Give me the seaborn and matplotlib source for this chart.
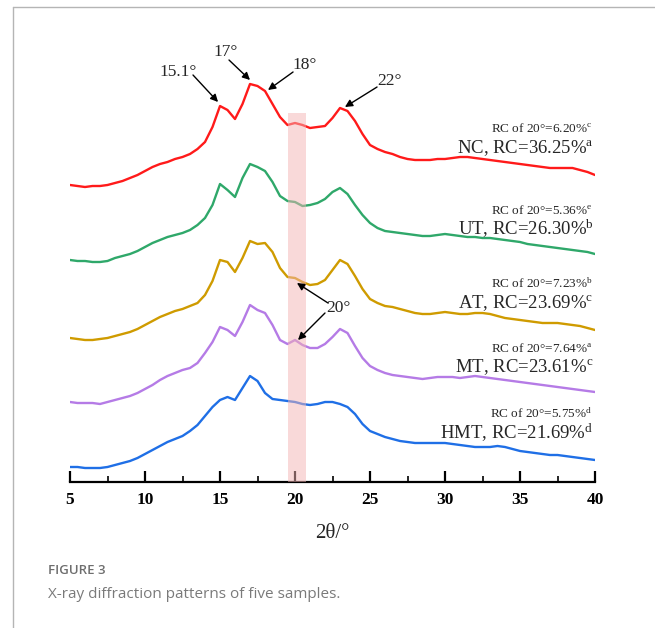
# XRD patterns of five starch samples, stacked, with RC annotations

import numpy as np
import pandas as pd
import seaborn as sns
import matplotlib.pyplot as plt
from matplotlib.lines import Line2D
from matplotlib.ticker import MultipleLocator

# ----------------------------- DATA --------------------------------------------------------------------

two_theta = np.arange(5, 40.01, 0.5)

samples = ["NC", "UT", "AT", "MT", "HMT"]
colors = ["#ff1a1a", "#2fa86a", "#cf9b00", "#b57be6", "#1f6fe6"]

# intensity (a.u.), every 0.5 deg from 5 to 40
nc = [5, 4, 3, 4, 4, 5, 7, 9, 12, 15,
      19, 23, 26, 28, 31, 33, 36, 41, 48, 63,
      84, 80, 71, 86, 106, 104, 99, 86, 73, 65,
      67, 65, 62, 63, 64, 72, 82, 79, 69, 56,
      45, 41, 38, 36, 33, 31, 30, 30, 30, 31,
      31, 32, 33, 33, 32, 31, 30, 29, 28, 27,
      26, 25, 24, 23, 22, 22, 22, 22, 20, 18,
      15]
ut = [5, 4, 4, 3, 3, 4, 7, 9, 11, 14,
      18, 22, 25, 28, 30, 32, 35, 40, 47, 60,
      81, 75, 68, 87, 101, 98, 94, 83, 69, 64,
      63, 59, 60, 62, 66, 73, 77, 71, 60, 50,
      42, 37, 34, 33, 32, 31, 30, 29, 29, 30,
      31, 30, 29, 28, 28, 27, 27, 26, 25, 24,
      23, 21, 20, 19, 18, 17, 16, 15, 14, 13,
      11]
at = [7, 6, 5, 5, 6, 7, 9, 11, 13, 16,
      20, 24, 28, 31, 34, 36, 39, 42, 50, 64,
      85, 83, 73, 87, 104, 101, 102, 93, 77, 68,
      67, 63, 60, 61, 65, 75, 85, 81, 69, 56,
      46, 42, 39, 38, 36, 34, 32, 31, 31, 32,
      33, 32, 31, 31, 32, 32, 31, 29, 27, 26,
      25, 24, 23, 22, 22, 22, 21, 20, 19, 17,
      15]
mt = [8, 7, 7, 7, 6, 8, 10, 12, 14, 17,
      21, 25, 30, 34, 37, 40, 42, 47, 57, 68,
      83, 80, 74, 88, 105, 100, 97, 85, 70, 66,
      70, 65, 62, 62, 66, 73, 81, 77, 64, 52,
      44, 40, 37, 35, 34, 33, 32, 31, 32, 33,
      33, 33, 32, 33, 34, 33, 32, 31, 30, 29,
      28, 27, 26, 25, 24, 23, 22, 21, 20, 19,
      18]
hmt = [3, 3, 2, 2, 2, 3, 5, 7, 9, 12,
       16, 20, 24, 28, 31, 34, 39, 45, 54, 63,
       70, 73, 70, 82, 94, 89, 77, 71, 70, 69,
       68, 66, 65, 66, 68, 68, 66, 63, 56, 46,
       39, 36, 33, 31, 29, 28, 27, 27, 27, 27,
       27, 26, 25, 24, 23, 23, 23, 24, 23, 21,
       19, 18, 17, 16, 15, 15, 14, 13, 12, 11,
       10]
intensities = [nc, ut, at, mt, hmt]

# vertical stacking offsets
offsets = [292, 217, 137, 72, 12]

rc_total = ["36.25", "26.30", "23.69", "23.61", "21.69"]
rc_total_sig = ["a", "b", "c", "c", "d"]
rc_20 = ["6.20", "5.36", "7.23", "7.64", "5.75"]
rc_20_sig = ["c", "e", "b", "a", "d"]
label_y = [334, 253, 179, 115, 49]

# peak labels: text, text position, arrow tail, arrow head
peaks = [
    ("15.1°", (12.2, 410), (13.2, 407), (14.87, 380)),
    ("17°", (15.4, 430), (15.6, 422), (17.0, 402)),
    ("18°", (20.67, 417), (19.87, 410), (18.2, 392)),
    ("22°", (26.33, 401), (25.47, 395), (23.33, 375)),
]

# ----------------------------- LONG FORMAT -------------------------------------------------------------

rows = []
for name, vals, off in zip(samples, intensities, offsets):
    for t, v in zip(two_theta, vals):
        rows.append({"two_theta": t, "stacked": v + off, "sample": name})
df = pd.DataFrame(rows)

# ----------------------------- STYLE -------------------------------------------------------------------

sns.set_style("white")
plt.rcParams["font.family"] = ["Liberation Serif", "DejaVu Serif"]
plt.rcParams["mathtext.fontset"] = "custom"
plt.rcParams["mathtext.rm"] = "Liberation Serif"
plt.rcParams["mathtext.it"] = "Liberation Serif:italic"

fig = plt.figure(figsize=(6.55, 6.28), dpi=100)
ax = fig.add_axes([70 / 655, 146 / 628, 525 / 655, 422 / 628])

sns.lineplot(
    data=df,
    x="two_theta",
    y="stacked",
    hue="sample",
    hue_order=samples,
    palette=dict(zip(samples, colors)),
    estimator=None,
    legend=False,
    linewidth=1.7,
    ax=ax,
)

# highlighted 20 deg region
ax.axvspan(19.5, 20.7, ymin=0, ymax=0.874, color="#f5b5b5", alpha=0.5, lw=0, zorder=5)

ax.set_xlim(5, 40)
ax.set_ylim(0, 422)
ax.set_yticks([])
ax.set_ylabel("")
for side in ["left", "right", "top"]:
    ax.spines[side].set_visible(False)
ax.spines["bottom"].set_linewidth(1.6)
ax.spines["bottom"].set_color("black")

ax.xaxis.set_major_locator(MultipleLocator(5))
ax.xaxis.set_minor_locator(MultipleLocator(2.5))
ax.tick_params(axis="x", which="major", direction="in", length=8, width=1.6, pad=7,
               labelsize=12.5, colors="black", bottom=True)
ax.tick_params(axis="x", which="minor", direction="in", length=4, width=1.4, bottom=True)
for lab in ax.get_xticklabels():
    lab.set_fontweight("bold")

ax.set_xlabel("2θ/°", fontsize=15)
ax.xaxis.set_label_coords(0.5, -0.10)

# ----------------------------- ANNOTATIONS -------------------------------------------------------------

for i, name in enumerate(samples):
    ax.text(39.85, label_y[i] + 19, f"RC of 20°={rc_20[i]}%$^{{\\mathrm{{{rc_20_sig[i]}}}}}$",
            ha="right", va="center", fontsize=9.5)
    ax.text(39.9, label_y[i], f"{name}, RC={rc_total[i]}%$^{{\\mathrm{{{rc_total_sig[i]}}}}}$",
            ha="right", va="center", fontsize=13.5)

arrow_kw = dict(arrowstyle="-|>", color="black", lw=1, mutation_scale=11, shrinkA=0, shrinkB=0)
for text, txy, tail, head in peaks:
    ax.text(txy[0], txy[1], text, ha="center", va="center", fontsize=12.5)
    ax.annotate("", xy=head, xytext=tail, arrowprops=arrow_kw)

ax.text(22.87, 174, "20°", ha="center", va="center", fontsize=12.5, zorder=6)
ax.annotate("", xy=(20.13, 199), xytext=(22.2, 179), arrowprops=arrow_kw, zorder=6)
ax.annotate("", xy=(20.2, 142), xytext=(22.0, 169), arrowprops=arrow_kw, zorder=6)

# ----------------------------- CAPTION & FRAME ---------------------------------------------------------

fig.text(48 / 655, 1 - 571 / 628, "FIGURE 3", ha="left", va="center", fontsize=9.5,
         color="#6e6e6e", family="Open Sans", fontweight="semibold")
fig.text(48 / 655, 1 - 594 / 628, "X-ray diffraction patterns of five samples.", ha="left",
         va="center", fontsize=11, color="#7a7a7a", family="Open Sans")

fig.add_artist(Line2D([13 / 655, 13 / 655], [0, 1 - 7 / 628], color="#b5b5b5", lw=1))
fig.add_artist(Line2D([13 / 655, 1], [1 - 7 / 628, 1 - 7 / 628], color="#b5b5b5", lw=1))

plt.savefig("out.png", dpi=100)
plt.close()
